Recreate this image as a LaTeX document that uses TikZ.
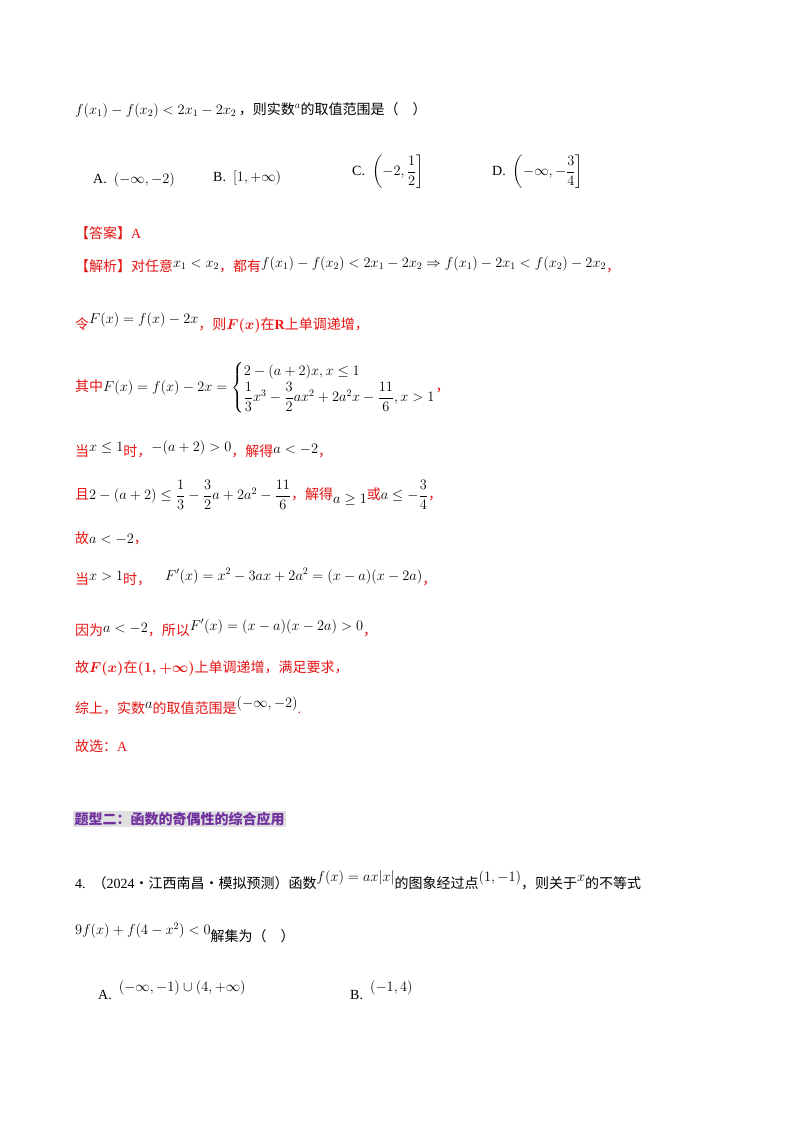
\documentclass[tikz,border=0pt]{standalone}
\usepackage{fontspec}
\usepackage{amsmath,amssymb}
\setmainfont{Liberation Serif}
\newfontfamily\cjk{Noto Sans CJK SC}
\definecolor{ansred}{RGB}{230,20,20}
\definecolor{headpurple}{RGB}{112,48,160}
\begin{document}
\begin{tikzpicture}[x=1pt,y=-1pt,
  t/.style={anchor=west,inner sep=0pt,font=\fontsize{14}{16}\selectfont},
  r/.style={t,text=ansred}]
\useasboundingbox (0,0) rectangle (800,1132);
\fill[white] (0,0) rectangle (800,1132);
\node[t] (l1) at (75,110) {$f(x_1)-f(x_2)<2x_1-2x_2$\,{\cjk ，则实数}$^{a}${\cjk 的取值范围是（\quad ）}};
\node[t] (oa) at (93,180) {A.\ \ $(-\infty,-2)$};
\node[t] (ob) at (213,178) {B.\ \ $[1,+\infty)$};
\node[t] (oc) at (352,172) {C.\ \ $\left(-2,\dfrac12\right]$};
\node[t] (od) at (492,172) {D.\ \ $\left(-\infty,-\dfrac34\right]$};
\node[r] (ans) at (75,233) {{\cjk 【答案】}A};
\node[r] (j1) at (75,265) {{\cjk 【解析】对任意}\raisebox{4pt}{\color{black}$x_1<x_2$}{\cjk ，都有}\raisebox{4pt}{\color{black}$f(x_1)-f(x_2)<2x_1-2x_2\Rightarrow f(x_1)-2x_1<f(x_2)-2x_2$}{\cjk ，}};
\node[r] (j2) at (75,323) {{\cjk 令}\raisebox{6pt}{\color{black}$F(x)=f(x)-2x$}{\cjk ，则}$\boldsymbol{F(x)}${\cjk 在}\textbf{R}{\cjk 上单调递增，}};
\node[r] (j3) at (75,388) {{\cjk 其中}{\color{black}$F(x)=f(x)-2x=\left\{\begin{array}{@{}l@{}}2-(a+2)x,x\le1\\[2pt] \dfrac13x^3-\dfrac32ax^2+2a^2x-\dfrac{11}{6},x>1\end{array}\right.$}{\cjk ，}};
\node[r] (j4) at (75,449) {{\cjk 当}\raisebox{5pt}{\color{black}$x\le1$}{\cjk 时，}\raisebox{5pt}{\color{black}$-(a+2)>0$}{\cjk ，解得}\raisebox{3pt}{\color{black}$a<-2$}{\cjk ，}};
\node[r] (j5) at (75,495) {{\cjk 且}{\color{black}$2-(a+2)\le\dfrac13-\dfrac32a+2a^2-\dfrac{11}{6}$}{\cjk ，解得}\raisebox{-4pt}{\color{black}$a\ge1$}{\cjk 或}{\color{black}$a\le-\dfrac34$}{\cjk ，}};
\node[r] (j6) at (75,538) {{\cjk 故}{\color{black}$a<-2$}{\cjk ，}};
\node[r] (j7) at (75,577) {{\cjk 当}\raisebox{4pt}{\color{black}$x>1$}{\cjk 时，}\raisebox{4pt}{\color{black}\quad$F'(x)=x^2-3ax+2a^2=(x-a)(x-2a)$}{\cjk ，}};
\node[r] (j8) at (75,628) {{\cjk 因为}\raisebox{3pt}{\color{black}$a<-2$}{\cjk ，所以}\raisebox{5pt}{\color{black}$F'(x)=(x-a)(x-2a)>0$}{\cjk ，}};
\node[r] (j9) at (75,668) {{\cjk 故}$\boldsymbol{F(x)}${\cjk 在}$\boldsymbol{(1,+\infty)}${\cjk 上单调递增，满足要求，}};
\node[r] (j10) at (75,706) {{\cjk 综上，实数}\raisebox{5pt}{\color{black}$a$}{\cjk 的取值范围是}\raisebox{6pt}{\color{black}$(-\infty,-2)$}.};
\node[r] (j11) at (75,746) {{\cjk 故选：}A};
\node[t,fill=black!12,text=headpurple,inner sep=1.5pt] (h) at (73,819) {\cjk\bfseries 题型二：函数的奇偶性的综合应用};
\node[t] (q4) at (75,880) {4.\ \ {\cjk （}2024{\cjk ·江西南昌·模拟预测）函数}\raisebox{7pt}{$f(x)=ax|x|$}{\cjk 的图象经过点}\raisebox{7pt}{$(1,-1)$}{\cjk ，则关于}\raisebox{7pt}{$x$}{\cjk 的不等式}};
\node[t] (q4b) at (75,933) {$9f(x)+f(4-x^2)<0$\raisebox{-7pt}{\cjk 解集为（\quad ）}};
\node[t] (qa) at (98,990) {A.\raisebox{8pt}{\ \ $(-\infty,-1)\cup(4,+\infty)$}};
\node[t] (qb) at (350,990) {B.\raisebox{8pt}{\ \ $(-1,4)$}};
\end{tikzpicture}
\end{document}
